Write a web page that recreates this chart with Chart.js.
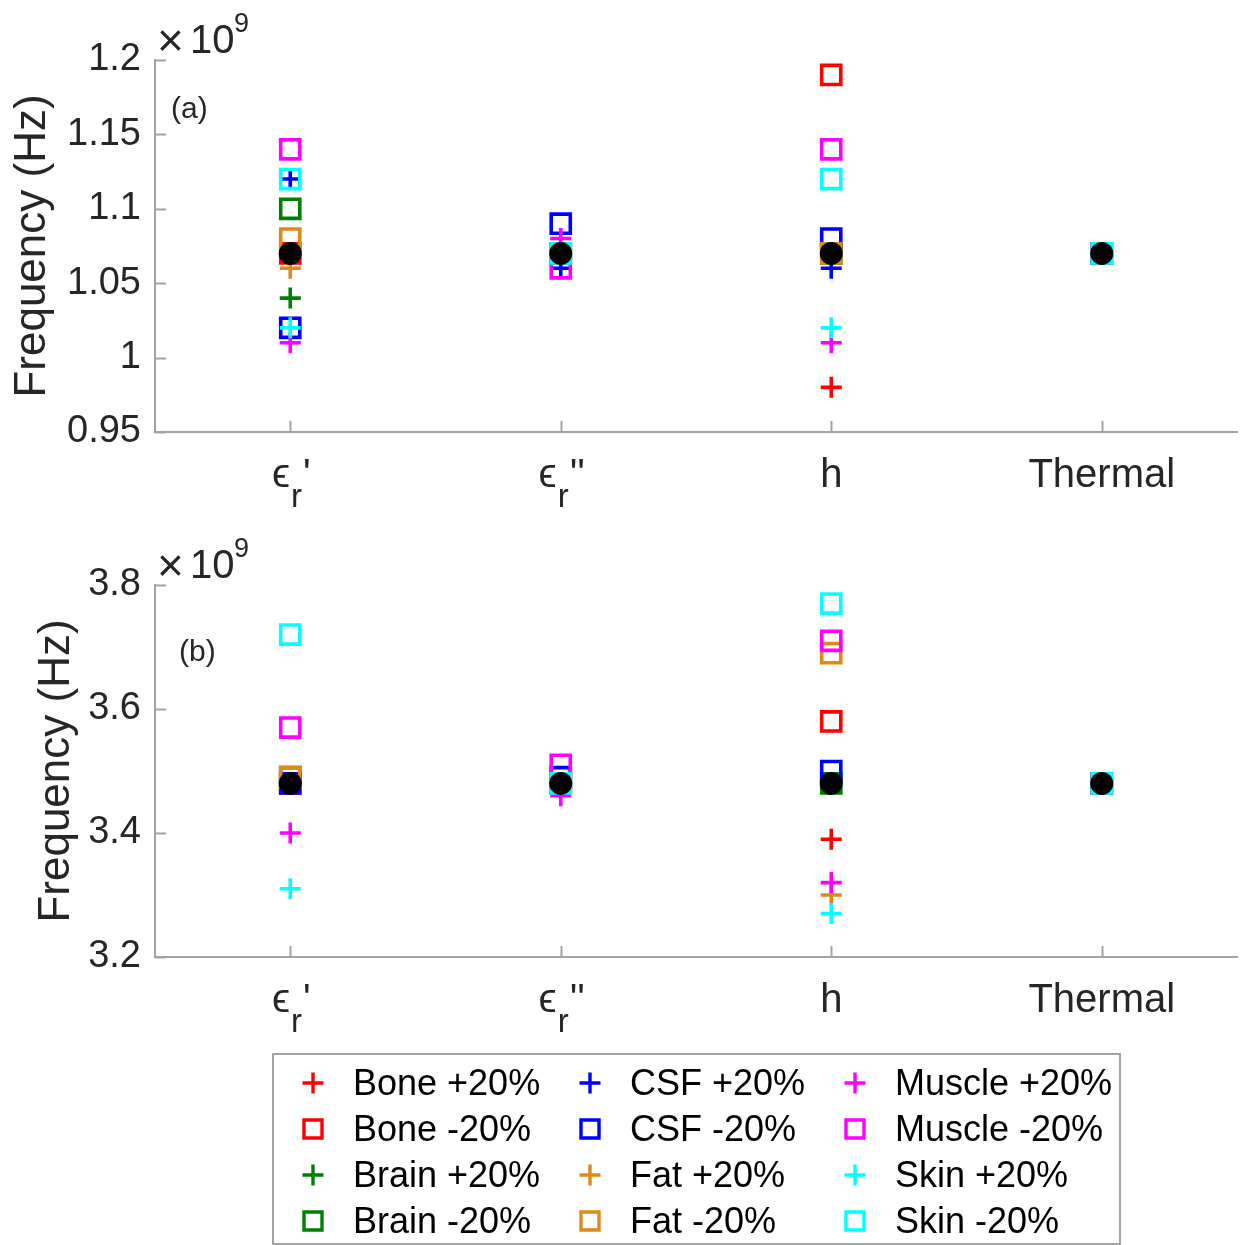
<!DOCTYPE html>
<html>
<head>
<meta charset="utf-8">
<script src="https://cdn.jsdelivr.net/npm/chart.js@4.4.1/dist/chart.umd.min.js"></script>
<style>
  html, body { margin: 0; padding: 0; background: #fff; overflow: hidden; }
  body { width: 1248px; height: 1245px; position: relative; }
  #chartA { position: absolute; left: 0; top: 0; }
  #chartB { position: absolute; left: 0; top: 520px; }
</style>
</head>
<body>
<canvas id="chartA" width="1248" height="520"></canvas>
<canvas id="chartB" width="1248" height="725"></canvas>
<script>
// categories (x axis)
const categories = ["\u03f5r'", "\u03f5r''", 'h', 'Thermal'];

// legend names
const seriesNames = ['Bone +20%', 'Bone -20%', 'Brain +20%', 'Brain -20%', 'CSF +20%', 'CSF -20%',
  'Fat +20%', 'Fat -20%', 'Muscle +20%', 'Muscle -20%', 'Skin +20%', 'Skin -20%'];

// panel (a), frequency x10^9 Hz
const boneUpA     = [1.07, 1.07, 0.98, 1.07];
const boneDownA   = [1.07, 1.07, 1.19, 1.07];
const brainUpA    = [1.04, 1.07, 1.07, 1.07];
const brainDownA  = [1.10, 1.07, 1.07, 1.07];
const csfUpA      = [1.12, 1.06, 1.06, 1.07];
const csfDownA    = [1.02, 1.09, 1.08, 1.07];
const fatUpA      = [1.06, 1.07, 1.07, 1.07];
const fatDownA    = [1.08, 1.07, 1.07, 1.07];
const muscleUpA   = [1.01, 1.08, 1.01, 1.07];
const muscleDownA = [1.14, 1.06, 1.14, 1.07];
const skinUpA     = [1.02, 1.07, 1.02, 1.07];
const skinDownA   = [1.12, 1.07, 1.12, 1.07];
const baselineA   = [1.07, 1.07, 1.07, 1.07];
const yTicksA = [0.95, 1.2, 0.05];

// panel (b), frequency x10^9 Hz
const boneUpB     = [3.48, 3.48, 3.39, 3.48];
const boneDownB   = [3.48, 3.48, 3.58, 3.48];
const brainUpB    = [3.48, 3.48, 3.48, 3.48];
const brainDownB  = [3.49, 3.48, 3.48, 3.48];
const csfUpB      = [3.48, 3.48, 3.48, 3.48];
const csfDownB    = [3.48, 3.49, 3.50, 3.48];
const fatUpB      = [3.48, 3.48, 3.30, 3.48];
const fatDownB    = [3.49, 3.48, 3.69, 3.48];
const muscleUpB   = [3.40, 3.46, 3.32, 3.48];
const muscleDownB = [3.57, 3.51, 3.71, 3.48];
const skinUpB     = [3.31, 3.48, 3.27, 3.48];
const skinDownB   = [3.72, 3.48, 3.77, 3.48];
const baselineB   = [3.48, 3.48, 3.48, 3.48];
const yTicksB = [3.2, 3.8, 0.2];

// styles
const colors = ['#ff0000', '#ff0000', '#008000', '#008000', '#0000ff', '#0000ff',
  '#dc8a1c', '#dc8a1c', '#ff00ff', '#ff00ff', '#00ffff', '#00ffff'];
const FONT = '"Liberation Sans", Arial, sans-serif';
const TXT = '#262626';
const AXIS = '#a3a3a3';

function buildDatasets(series, base) {
  const ds = series.map((vals, i) => {
    const plus = i % 2 === 0;
    return {
      label: seriesNames[i],
      data: vals,
      showLine: false,
      order: 20 - i,               // later series on top, like matlab
      pointStyle: plus ? 'cross' : 'rect',
      pointRadius: plus ? 10.5 : 13.5,
      pointBorderWidth: 3.6,
      pointBorderColor: colors[i],
      pointBackgroundColor: 'rgba(0,0,0,0)',
      clip: false
    };
  });
  ds.push({
    label: 'baseline', data: base, showLine: false, order: 0,
    pointStyle: 'circle', pointRadius: 11.5, pointBorderWidth: 0,
    pointBackgroundColor: '#000', clip: false
  });
  return ds;
}

function drawMarker(ctx, i, x, y) {
  ctx.strokeStyle = colors[i];
  ctx.lineWidth = 3.4;
  ctx.beginPath();
  if (i % 2 === 0) {
    ctx.moveTo(x - 10.5, y); ctx.lineTo(x + 10.5, y);
    ctx.moveTo(x, y - 10.5); ctx.lineTo(x, y + 10.5);
  } else {
    ctx.rect(x - 9, y - 9, 18, 18);
  }
  ctx.stroke();
}

// ticks inside, x labels with sub/superscripts, exponent, panel letter, legend
const decor = {
  id: 'decor',
  afterDraw(chart, args, opts) {
    const ctx = chart.ctx;
    const a = chart.chartArea;
    const xs = chart.scales.x, ys = chart.scales.y;
    ctx.save();
    ctx.strokeStyle = AXIS; ctx.lineWidth = 2;
    ctx.beginPath();
    ys.ticks.forEach(t => {
      const y = Math.round(ys.getPixelForValue(t.value)) + 0.5;
      ctx.moveTo(a.left, y); ctx.lineTo(a.left + 11, y);
    });
    categories.forEach((c, i) => {
      const x = Math.round(xs.getPixelForValue(i)) + 0.5;
      ctx.moveTo(x, a.bottom); ctx.lineTo(x, a.bottom - 11);
    });
    ctx.stroke();

    // x labels
    ctx.fillStyle = TXT;
    ctx.textBaseline = 'alphabetic';
    const base = a.bottom + 55;
    categories.forEach((c, i) => {
      const xc = xs.getPixelForValue(i);
      if (c.startsWith('\u03f5')) {
        const parts = [['\u03f5', 41, 0], ['r', 33, 20], [c.slice(2), 40, 0]];
        let w = 0;
        parts.forEach(p => { ctx.font = p[1] + 'px ' + FONT; p.push(ctx.measureText(p[0]).width); w += p[3]; });
        let x = xc - w / 2;
        ctx.textAlign = 'left';
        parts.forEach(p => {
          ctx.font = p[1] + 'px ' + FONT;
          ctx.fillText(p[0], x, base + p[2]);
          x += p[3] + 1;
        });
      } else {
        ctx.textAlign = 'center';
        ctx.font = '40px ' + FONT;
        ctx.fillText(c, xc, base);
      }
    });

    // x10^9
    ctx.textAlign = 'left';
    ctx.font = '46px ' + FONT;
    ctx.fillText('\u00d7', a.left + 2, a.top - 4);
    ctx.font = '40px ' + FONT;
    ctx.fillText('10', a.left + 35, a.top - 7);
    ctx.font = '27px ' + FONT;
    ctx.fillText('9', a.left + 79, a.top - 28);

    // panel letter
    ctx.font = '30px ' + FONT;
    ctx.textBaseline = 'middle';
    ctx.fillText(opts.letter, a.left + opts.dx, a.top + opts.dy);

    if (opts.legend) {
      const top = opts.legendTop;
      ctx.strokeStyle = AXIS; ctx.lineWidth = 2;
      ctx.strokeRect(273, top, 847, 190);
      const colX = [313, 590, 855];
      const rowY = [top + 29, top + 75, top + 121, top + 167];
      ctx.font = '36px ' + FONT;
      ctx.fillStyle = '#000';
      ctx.textBaseline = 'middle';
      const order = [0, 4, 8, 1, 5, 9, 2, 6, 10, 3, 7, 11];
      order.forEach((si, k) => {
        const col = k % 3, row = Math.floor(k / 3);
        drawMarker(ctx, si, colX[col], rowY[row]);
        ctx.fillText(seriesNames[si], colX[col] + 40, rowY[row] + 2);
      });
    }
    ctx.restore();
  }
};

function makeChart(id, series, base, yt, pad) {
  return new Chart(document.getElementById(id), {
    type: 'line',
    data: { labels: categories, datasets: buildDatasets(series, base) },
    options: {
      responsive: false,
      animation: false,
      layout: { autoPadding: false, padding: { top: pad.top, right: 11, left: 0, bottom: pad.bottom } },
      plugins: {
        legend: { display: false },
        tooltip: { enabled: false },
        decor: pad.decor
      },
      scales: {
        x: {
          offset: true,
          grid: { display: false, drawTicks: false },
          border: { display: true, color: AXIS, width: 2 },
          ticks: { display: false },
          afterFit: s => { s.height = 88; }
        },
        y: {
          min: yt[0], max: yt[1],
          grid: { display: false, drawTicks: false },
          border: { display: true, color: AXIS, width: 2 },
          ticks: {
            stepSize: yt[2], color: TXT, padding: 14,
            font: { family: FONT, size: 38 },
            callback: v => String(parseFloat(v.toFixed(2)))
          },
          title: {
            display: true, text: 'Frequency (Hz)', color: TXT,
            font: { family: FONT, size: 44 },
            padding: { top: pad.titlePad, bottom: 0 }
          },
          afterFit: s => { s.width = 155; }
        }
      }
    },
    plugins: [decor]
  });
}

const chartA = makeChart('chartA',
  [boneUpA, boneDownA, brainUpA, brainDownA, csfUpA, csfDownA, fatUpA, fatDownA, muscleUpA, muscleDownA, skinUpA, skinDownA],
  baselineA, yTicksA,
  { top: 60, bottom: 0, titlePad: 6, decor: { letter: '(a)', dx: 16, dy: 50, legend: false } });

const chartB = makeChart('chartB',
  [boneUpB, boneDownB, brainUpB, brainDownB, csfUpB, csfDownB, fatUpB, fatDownB, muscleUpB, muscleDownB, skinUpB, skinDownB],
  baselineB, yTicksB,
  { top: 65, bottom: 200, titlePad: 30, decor: { letter: '(b)', dx: 24, dy: 68, legend: true, legendTop: 534 } });
</script>
</body>
</html>
